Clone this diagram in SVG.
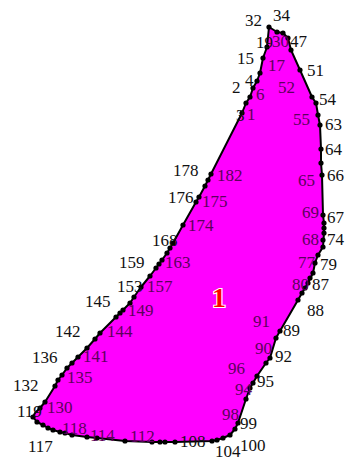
<svg xmlns="http://www.w3.org/2000/svg" width="349" height="462" viewBox="0 0 349 462">
<style>
.lb{font-family:"Liberation Serif","Times New Roman",serif;font-size:17px;fill:#111}
.in{fill:#5c005c}
.dot{fill:#000}
.title{font-family:"Liberation Serif","Times New Roman",serif;font-size:28px;font-weight:bold;fill:#ff0000;stroke:#ffffff;stroke-width:2.2px;paint-order:stroke;text-anchor:middle}
</style>
<rect width="349" height="462" fill="#ffffff"/>
<g id="region">
<polygon fill="#ff00ff" stroke="#000" stroke-width="2" stroke-linejoin="round" points="269,27 277,32 283,33 288,38 291,50 300,70 312,97 316,103 318,115 320,125 321,149 321,163 322,175 323,215 324,223 324,233 323,247 318,255 315,263 313,273 308,283 302,293 298,300 280,331 276,338 270,358 266,363 257,376 253,383 250,388 246,399 238,423 235,429 230,435 223,438 217,440 212,441 175,442 165,442 160,442 152,442 125,441 97,438 87,437 72,435 65,433 60,432 53,430 48,428 43,425 37,422 33,417 35,413 40,408 45,402 55,386 58,380 62,375 67,368 72,363 78,357 87,348 95,339 100,333 116,317 123,310 130,303 134,297 141,287 150,276 156,268 162,260 167,253 173,243 183,225 196,202 199,197 205,186 208,180 211,174 242,113 246,103 250,97 253,88 257,81 260,73 263,58 267,47"/>
</g>
<g id="vertices" class="dot">
<circle cx="269" cy="27" r="2.6"/><circle cx="277" cy="32" r="2.6"/><circle cx="283" cy="33" r="2.6"/><circle cx="288" cy="38" r="2.6"/><circle cx="291" cy="50" r="2.6"/><circle cx="300" cy="70" r="2.6"/><circle cx="312" cy="97" r="2.6"/><circle cx="316" cy="103" r="2.6"/><circle cx="318" cy="115" r="2.6"/><circle cx="320" cy="125" r="2.6"/><circle cx="321" cy="149" r="2.6"/><circle cx="321" cy="163" r="2.6"/><circle cx="322" cy="175" r="2.6"/><circle cx="323" cy="215" r="2.6"/><circle cx="324" cy="223" r="2.6"/><circle cx="324" cy="228" r="2.6"/><circle cx="324" cy="233" r="2.6"/><circle cx="323" cy="240" r="2.6"/><circle cx="323" cy="247" r="2.6"/><circle cx="318" cy="255" r="2.6"/><circle cx="315" cy="263" r="2.6"/><circle cx="313" cy="273" r="2.6"/><circle cx="310" cy="278" r="2.6"/><circle cx="308" cy="283" r="2.6"/><circle cx="305" cy="288" r="2.6"/><circle cx="302" cy="293" r="2.6"/><circle cx="298" cy="300" r="2.6"/><circle cx="280" cy="331" r="2.6"/><circle cx="276" cy="338" r="2.6"/><circle cx="270" cy="358" r="2.6"/><circle cx="266" cy="363" r="2.6"/><circle cx="257" cy="376" r="2.6"/><circle cx="253" cy="383" r="2.6"/><circle cx="250" cy="388" r="2.6"/><circle cx="246" cy="399" r="2.6"/><circle cx="238" cy="423" r="2.6"/><circle cx="235" cy="429" r="2.6"/><circle cx="230" cy="435" r="2.6"/><circle cx="223" cy="438" r="2.6"/><circle cx="217" cy="440" r="2.6"/><circle cx="212" cy="441" r="2.6"/><circle cx="175" cy="442" r="2.6"/><circle cx="165" cy="442" r="2.6"/><circle cx="160" cy="442" r="2.6"/><circle cx="152" cy="442" r="2.6"/><circle cx="125" cy="441" r="2.6"/><circle cx="97" cy="438" r="2.6"/><circle cx="87" cy="437" r="2.6"/><circle cx="72" cy="435" r="2.6"/><circle cx="65" cy="433" r="2.6"/><circle cx="60" cy="432" r="2.6"/><circle cx="53" cy="430" r="2.6"/><circle cx="48" cy="428" r="2.6"/><circle cx="43" cy="425" r="2.6"/><circle cx="37" cy="422" r="2.6"/><circle cx="33" cy="417" r="2.6"/><circle cx="40" cy="408" r="2.6"/><circle cx="45" cy="402" r="2.6"/><circle cx="55" cy="386" r="2.6"/><circle cx="58" cy="380" r="2.6"/><circle cx="62" cy="375" r="2.6"/><circle cx="67" cy="368" r="2.6"/><circle cx="72" cy="363" r="2.6"/><circle cx="78" cy="357" r="2.6"/><circle cx="87" cy="348" r="2.6"/><circle cx="95" cy="339" r="2.6"/><circle cx="100" cy="333" r="2.6"/><circle cx="116" cy="317" r="2.6"/><circle cx="120" cy="313" r="2.6"/><circle cx="123" cy="310" r="2.6"/><circle cx="130" cy="303" r="2.6"/><circle cx="134" cy="297" r="2.6"/><circle cx="141" cy="287" r="2.6"/><circle cx="150" cy="276" r="2.6"/><circle cx="156" cy="268" r="2.6"/><circle cx="159" cy="264" r="2.6"/><circle cx="162" cy="260" r="2.6"/><circle cx="167" cy="253" r="2.6"/><circle cx="170" cy="248" r="2.6"/><circle cx="173" cy="243" r="2.6"/><circle cx="183" cy="225" r="2.6"/><circle cx="196" cy="202" r="2.6"/><circle cx="199" cy="197" r="2.6"/><circle cx="205" cy="186" r="2.6"/><circle cx="208" cy="180" r="2.6"/><circle cx="211" cy="174" r="2.6"/><circle cx="242" cy="113" r="2.6"/><circle cx="246" cy="103" r="2.6"/><circle cx="250" cy="97" r="2.6"/><circle cx="253" cy="88" r="2.6"/><circle cx="257" cy="81" r="2.6"/><circle cx="260" cy="73" r="2.6"/><circle cx="263" cy="58" r="2.6"/><circle cx="267" cy="47" r="2.6"/>
</g>
<g id="labels" class="lb">
<text x="245" y="26">32</text><text x="273" y="21">34</text><text x="256" y="48">19</text><text x="272" y="47" class="in">30</text><text x="290" y="47">47</text>
<text x="237" y="64">15</text><text x="268" y="71" class="in">17</text><text x="307" y="76">51</text>
<text x="232" y="93">2</text><text x="245" y="86">4</text><text x="256" y="100" class="in">6</text><text x="278" y="93" class="in">52</text><text x="319" y="105">54</text>
<text x="236" y="121">3</text><text x="247" y="120" class="in">1</text><text x="293" y="125" class="in">55</text><text x="325" y="130">63</text>
<text x="325" y="155">64</text><text x="298" y="186" class="in">65</text><text x="327" y="181">66</text>
<text x="302" y="218" class="in">69</text><text x="327" y="223">67</text><text x="302" y="245" class="in">68</text><text x="327" y="245">74</text>
<text x="298" y="268" class="in">77</text><text x="320" y="270">79</text><text x="292" y="290" class="in">80</text><text x="312" y="290">87</text><text x="307" y="316">88</text>
<text x="253" y="327" class="in">91</text><text x="283" y="336">89</text><text x="255" y="354" class="in">90</text><text x="275" y="362">92</text>
<text x="228" y="374" class="in">96</text><text x="257" y="387">95</text><text x="235" y="395" class="in">94</text>
<text x="222" y="420" class="in">98</text><text x="240" y="429">99</text><text x="240" y="451">100</text><text x="215" y="457">104</text>
<text x="180" y="447">108</text><text x="130" y="442" class="in">112</text><text x="90" y="441" class="in">114</text><text x="62" y="434" class="in">118</text><text x="28" y="452">117</text>
<text x="17" y="417">119</text><text x="47" y="413" class="in">130</text><text x="13" y="391">132</text><text x="67" y="383" class="in">135</text><text x="32" y="363">136</text>
<text x="83" y="362" class="in">141</text><text x="55" y="337">142</text><text x="107" y="337" class="in">144</text><text x="85" y="307">145</text><text x="128" y="316" class="in">149</text>
<text x="117" y="292">153</text><text x="147" y="292" class="in">157</text><text x="119" y="268">159</text><text x="165" y="268" class="in">163</text><text x="152" y="246">168</text>
<text x="188" y="231" class="in">174</text><text x="168" y="203">176</text><text x="202" y="207" class="in">175</text><text x="173" y="176">178</text><text x="217" y="181" class="in">182</text>
</g>
<g id="region-label">
<text x="219" y="307" class="title">1</text>
</g>
</svg>
